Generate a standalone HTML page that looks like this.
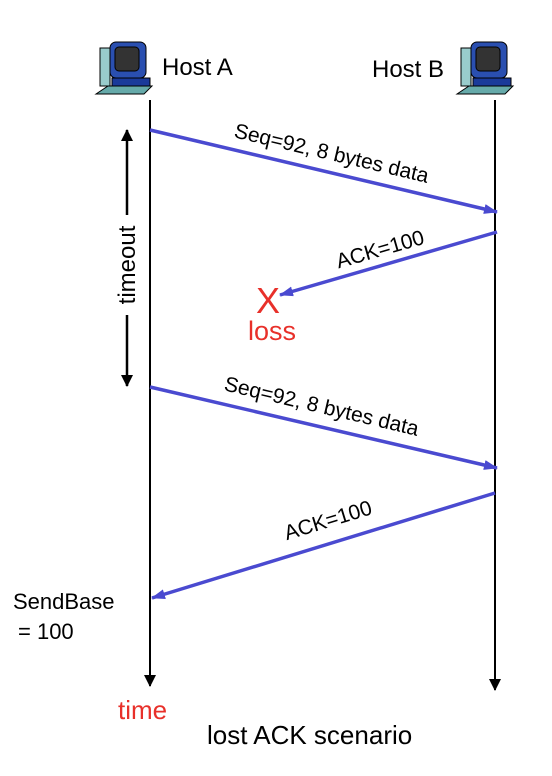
<!DOCTYPE html>
<html><head><meta charset="utf-8"><style>body{margin:0;background:#fff}svg{display:block}</style></head><body>
<svg width="552" height="776" viewBox="0 0 552 776" xmlns="http://www.w3.org/2000/svg" font-family="Liberation Sans, sans-serif">
<defs>
<marker id="bh" markerWidth="14" markerHeight="10" refX="13" refY="5" orient="auto" markerUnits="userSpaceOnUse"><path d="M0,0 L14,5 L0,10 Z" fill="#4a4ad0"/></marker>
<marker id="kh" markerWidth="12" markerHeight="12" refX="11" refY="6" orient="auto" markerUnits="userSpaceOnUse"><path d="M0,0 L12,6 L0,12 Z" fill="#000"/></marker>
<g id="pc">
<rect x="0" y="6" width="10" height="38" fill="#9cc" stroke="#000"/>
<rect x="10" y="0" width="36" height="36" rx="6" fill="#2a4fb0" stroke="#000"/>
<rect x="15" y="5" width="24" height="24" rx="4" fill="#333" stroke="#000"/>
<rect x="12" y="36" width="38" height="8" fill="#1a3a9a" stroke="#000"/>
<path d="M-4,52 L8,44 L52,44 L44,52 Z" fill="#6aa" stroke="#000"/>
</g>
</defs>
<use href="#pc" x="100" y="42"/>
<use href="#pc" x="461" y="42"/>
<g font-size="24" fill="#000">
<text x="162" y="75">Host A</text>
<text x="372" y="77">Host B</text>
</g>
<line x1="150" y1="100" x2="150" y2="686" stroke="#000" stroke-width="2" marker-end="url(#kh)"/>
<line x1="495" y1="100" x2="495" y2="690" stroke="#000" stroke-width="2" marker-end="url(#kh)"/>
<g stroke="#4a4ad0" stroke-width="3.5">
<line x1="150" y1="130" x2="497" y2="212" marker-end="url(#bh)"/>
<line x1="497" y1="232" x2="280" y2="295" marker-end="url(#bh)"/>
<line x1="150" y1="387" x2="497" y2="468" marker-end="url(#bh)"/>
<line x1="495" y1="493" x2="152" y2="598" marker-end="url(#bh)"/>
</g>
<g font-size="21" fill="#000" text-anchor="middle">
<text transform="translate(330,160) rotate(13.3)">Seq=92, 8 bytes data</text>
<text transform="translate(382,256) rotate(-16)">ACK=100</text>
<text transform="translate(320,413) rotate(13.3)">Seq=92, 8 bytes data</text>
<text transform="translate(330,527) rotate(-17)">ACK=100</text>
</g>
<text x="268" y="313" font-size="36" fill="#e8302a" text-anchor="middle">X</text>
<text x="272" y="340" font-size="27" fill="#e8302a" text-anchor="middle">loss</text>
<line x1="127" y1="215" x2="127" y2="130" stroke="#000" stroke-width="2.5" marker-end="url(#kh)"/>
<line x1="127" y1="315" x2="127" y2="386" stroke="#000" stroke-width="2.5" marker-end="url(#kh)"/>
<text transform="translate(135,265) rotate(-90)" font-size="24" text-anchor="middle">timeout</text>
<text x="13" y="609" font-size="22">SendBase</text>
<text x="18" y="639" font-size="22">= 100</text>
<text x="118" y="719" font-size="26" fill="#e8302a">time</text>
<text x="207" y="744" font-size="26">lost ACK scenario</text>
</svg>
</body></html>
